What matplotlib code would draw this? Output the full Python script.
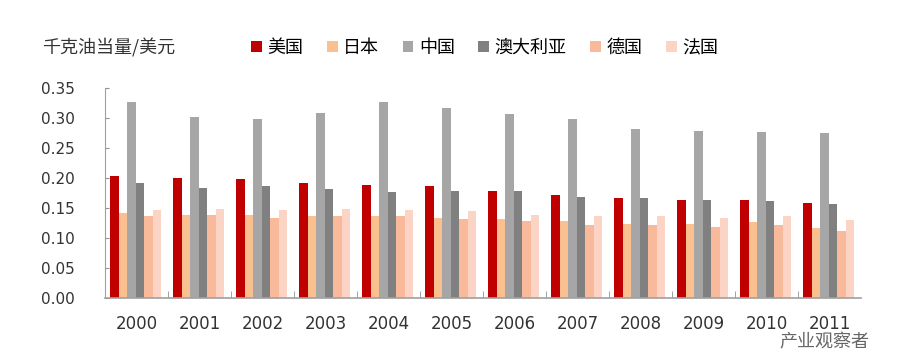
import matplotlib
matplotlib.use('Agg')
import matplotlib.pyplot as plt
import numpy as np

plt.rcParams['font.family'] = ['Noto Sans CJK SC', 'DejaVu Sans']

years = ['2000', '2001', '2002', '2003', '2004', '2005',
         '2006', '2007', '2008', '2009', '2010', '2011']
countries = ['美国', '日本', '中国', '澳大利亚', '德国', '法国']

usa = [0.204, 0.200, 0.198, 0.192, 0.189, 0.186, 0.178, 0.171, 0.167, 0.163, 0.163, 0.159]
japan = [0.142, 0.139, 0.138, 0.137, 0.137, 0.134, 0.131, 0.129, 0.124, 0.124, 0.126, 0.116]
china = [0.327, 0.301, 0.298, 0.309, 0.327, 0.316, 0.307, 0.298, 0.282, 0.278, 0.276, 0.275]
australia = [0.192, 0.184, 0.186, 0.182, 0.177, 0.179, 0.178, 0.169, 0.167, 0.163, 0.162, 0.157]
germany = [0.137, 0.138, 0.134, 0.137, 0.137, 0.131, 0.129, 0.121, 0.121, 0.119, 0.121, 0.111]
france = [0.146, 0.149, 0.146, 0.149, 0.146, 0.145, 0.139, 0.137, 0.137, 0.134, 0.137, 0.130]

series = [usa, japan, china, australia, germany, france]
colors = ['#C00000', '#FAC090', '#A6A6A6', '#808080', '#F9BA9C', '#FBD4C6']

fig = plt.figure(figsize=(9, 3.59), dpi=100)
ax = fig.add_axes([0.117, 0.170, 0.840, 0.585])

x = np.arange(len(years))
w = 0.135
for k, (vals, c, name) in enumerate(zip(series, colors, countries)):
    ax.bar(x + (k - 2.5) * w - 0.015, vals, width=w, color=c, label=name,
           edgecolor='none', zorder=2)

ax.set_xlim(-0.5, len(years) - 0.5)
ax.set_ylim(0, 0.35)
ax.set_yticks(np.arange(0, 0.351, 0.05))
ax.set_yticklabels(['%.2f' % v for v in np.arange(0, 0.351, 0.05)],
                   family='DejaVu Sans', fontsize=11, color='#333333')
ax.set_xticks(x)
ax.set_xticklabels(years, family='DejaVu Sans', fontsize=12, color='#333333')
ax.set_xticks(np.arange(0.5, len(years) - 0.5, 1), minor=True)
ax.tick_params(axis='x', which='major', length=0, pad=12)
ax.tick_params(axis='x', which='minor', direction='in', length=5, color='#909090')
ax.tick_params(axis='y', direction='in', length=3, color='#909090', pad=22)

for s in ['top', 'right']:
    ax.spines[s].set_visible(False)
for s in ['left', 'bottom']:
    ax.spines[s].set_color('#A0A0A0')
ax.spines['bottom'].set_linewidth(1.2)

fig.text(0.047, 0.866, '千克油当量/美元', fontsize=13, color='#333333',
         ha='left', va='center')

fig.legend(loc='center left', bbox_to_anchor=(0.279, 0.866), ncol=6,
           frameon=False, fontsize=13, handlelength=0.6, handleheight=0.6,
           handletextpad=0.3, columnspacing=1.3, borderpad=0, borderaxespad=0)

# watermark
fig.text(0.966, 0.045, '产业观察者', fontsize=13, color='#666666', ha='right',
         va='center')

fig.savefig('out.png', dpi=100)
